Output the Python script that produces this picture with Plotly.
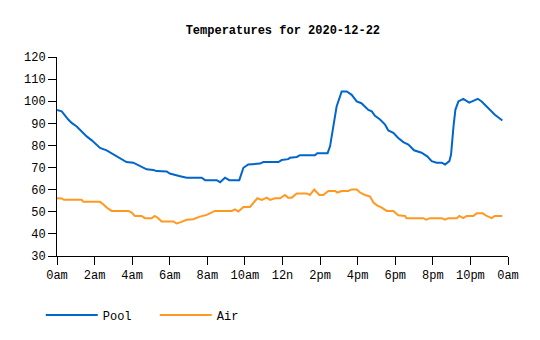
import plotly.graph_objects as go

pool_h = [0, 0.25, 0.6, 0.78, 1.05, 1.31, 1.58, 1.85, 2.29, 2.64, 3.0, 3.35, 3.7, 4.06, 4.42, 4.77, 5.13, 5.3,
          5.84, 6.0, 6.55, 6.9, 7.7, 7.88, 8.5, 8.68, 8.94, 9.17, 9.7, 9.92, 10.18, 10.8, 10.98, 11.78, 11.96,
          12.3, 12.4, 12.76, 12.93, 13.73, 13.85, 14.4, 14.53, 14.7, 14.88, 15.15, 15.42, 15.68, 15.95, 16.2,
          16.57, 16.75, 16.92, 17.19, 17.46, 17.63, 17.9, 18.16, 18.43, 18.7, 19.0, 19.4, 19.7, 19.94, 20.2,
          20.47, 20.65, 20.88, 20.97, 21.1, 21.2, 21.36, 21.62, 21.94, 22.39, 22.6, 22.96, 23.3, 23.7]
pool_v = [96, 95.4, 91.7, 90.2, 88.6, 86.4, 84.1, 82.3, 78.9, 77.8, 75.9, 74, 72.5, 72.2, 70.7, 69.2, 68.9, 68.4,
          68.2, 67.3, 66.1, 65.4, 65.4, 64.3, 64.3, 63.4, 65.4, 64.3, 64.3, 69.9, 71.4, 71.8, 72.5, 72.5, 73.4,
          73.8, 74.4, 74.8, 75.6, 75.6, 76.5, 76.5, 79.6, 88.6, 97.6, 104.4, 104.4, 102.9, 99.9, 99.1,
          96.1, 95.4, 93.4, 91.7, 89.4, 86.8, 85.7, 83.4, 81.5, 80.4, 77.8, 76.7, 75.1, 72.9, 72.2,
          72.2, 71.4, 72.9, 75.9, 88.6, 96.1, 99.9, 101.1, 99.4, 101.1, 99.9, 96.9, 93.9, 91.3]

air_h = [0, 0.25, 0.37, 1.31, 1.4, 2.29, 2.46, 2.64, 2.91, 3.8, 3.97, 4.15, 4.5, 4.68, 5.04, 5.2, 5.39, 5.57,
         6.19, 6.37, 6.55, 6.9, 7.25, 7.6, 7.97, 8.32, 8.4, 9.3, 9.47, 9.65, 9.92, 10.27, 10.45, 10.66, 10.9,
         11.16, 11.34, 11.6, 11.87, 12.13, 12.3, 12.49, 12.76, 13.29, 13.46, 13.69, 13.96, 14.17, 14.44, 14.8,
         14.92, 15.15, 15.5, 15.68, 15.95, 16.13, 16.39, 16.66, 16.84, 17.01, 17.28, 17.55, 17.9, 18.16, 18.52,
         18.6, 19.5, 19.64, 19.85, 20.47, 20.65, 20.82, 21.27, 21.41, 21.62, 21.8, 22.15, 22.34, 22.65, 22.87,
         23.13, 23.3, 23.7]
air_v = [56.1, 56, 55.4, 55.4, 54.5, 54.5, 53.4, 51.9, 50.4, 50.4, 49.6, 48.1, 48.1, 47.1, 47.1, 48.1, 47.1, 45.6,
         45.6, 44.7, 45.2, 46.4, 46.6, 47.8, 48.6, 49.9, 50.4, 50.4, 51.1, 50.1, 52.2, 52.2, 54.2, 56.1, 55.4,
         56.4, 55.4, 56.1, 56.1, 57.6, 56.4, 56.4, 58.3, 58.3, 57.6, 60.1, 57.6, 57.6, 59.4, 59.4,
         58.7, 59.4, 59.4, 60.1, 60.1, 58.7, 57.6, 56.9, 54.2, 53, 51.9, 50.4, 50.4, 48.4, 48.1,
         47.1, 47.1, 46.4, 47.1, 47.1, 46.4, 47.1, 47.1, 48.1, 47.1, 48.1, 48.1, 49.3, 49.3, 48.1,
         47.1, 48.1, 48.1]

x_tickvals = [0, 2, 4, 6, 8, 10, 12, 14, 16, 18, 20, 22, 24]
x_ticktext = ["0am", "2am", "4am", "6am", "8am", "10am", "12n", "2pm", "4pm", "6pm", "8pm", "10pm", "0am"]
title_text = "Temperatures for 2020-12-22"

FONT = "Liberation Mono"

fig = go.Figure()
fig.add_trace(go.Scatter(x=pool_h, y=pool_v, mode="lines", name="Pool",
                         line=dict(color="#0066cc", width=2)))
fig.add_trace(go.Scatter(x=air_h, y=air_v, mode="lines", name="Air",
                         line=dict(color="#ff9922", width=2)))

fig.update_layout(
    width=540, height=340,
    margin=dict(l=57, r=32, t=57, b=83),
    paper_bgcolor="white", plot_bgcolor="white",
    font=dict(family=FONT, size=12, color="black"),
    title=dict(text="<b>" + title_text + "</b>", x=0.5238, xanchor="center", y=0.911, yanchor="middle",
               font=dict(family=FONT, size=12, color="black")),
    showlegend=True,
    legend=dict(orientation="h", x=-0.036, xanchor="left", y=-0.29, yanchor="middle",
                itemwidth=52, entrywidth=47, entrywidthmode="pixels",
                font=dict(family=FONT, size=12), bgcolor="rgba(0,0,0,0)"),
    xaxis=dict(range=[0, 24], tickvals=x_tickvals, ticktext=x_ticktext, showgrid=False, zeroline=False,
               showline=True, linecolor="black", linewidth=1, ticks="outside", ticklen=8,
               tickcolor="black", fixedrange=True),
    yaxis=dict(range=[30, 120], dtick=10, tick0=30, showgrid=False, zeroline=False,
               showline=True, linecolor="black", linewidth=1, ticks="outside", ticklen=8,
               tickcolor="black", fixedrange=True),
)

fig.write_html("out.html")
